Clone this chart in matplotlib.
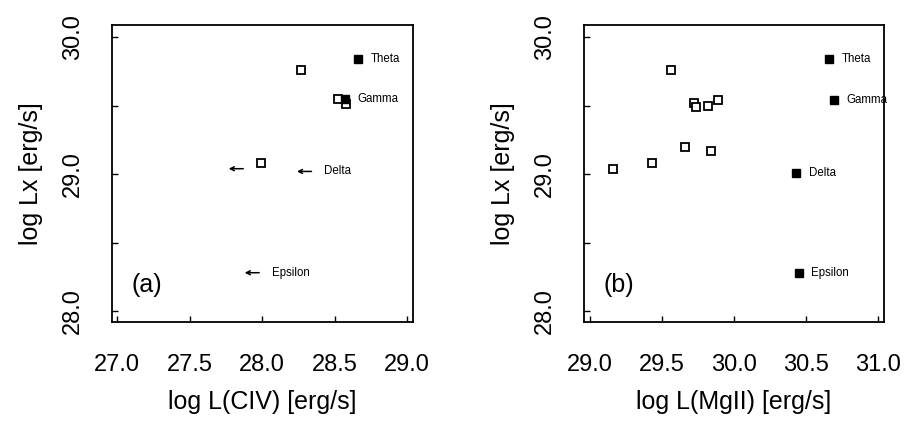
import matplotlib
matplotlib.use('Agg')
import matplotlib.pyplot as plt

plt.rcParams['font.family'] = ['Liberation Sans', 'DejaVu Sans']

# panel (a): log L(CIV) vs log Lx
civ_open_x = [28.27, 28.52, 28.58, 27.99]
civ_open_y = [29.76, 29.55, 29.51, 29.085]
civ_fill_x = [28.66, 28.57]
civ_fill_y = [29.845, 29.55]
civ_fill_names = ['Theta', 'Gamma']
civ_lim_x = [27.87, 28.34, 27.98]
civ_lim_y = [29.04, 29.02, 28.28]
civ_lim_names = ['', 'Delta', 'Epsilon']

# panel (b): log L(MgII) vs log Lx
mg_open_x = [29.56, 29.72, 29.74, 29.82, 29.89, 29.66, 29.84, 29.43, 29.16]
mg_open_y = [29.76, 29.52, 29.49, 29.50, 29.54, 29.20, 29.17, 29.08, 29.04]
mg_fill_x = [30.66, 30.69, 30.43, 30.45]
mg_fill_y = [29.84, 29.545, 29.01, 28.275]
mg_fill_names = ['Theta', 'Gamma', 'Delta', 'Epsilon']

xticks_a = [27.0, 27.5, 28.0, 28.5, 29.0]
xticks_b = [29.0, 29.5, 30.0, 30.5, 31.0]
yticks = [28.0, 28.5, 29.0, 29.5, 30.0]
ytick_labels = ['28.0', '', '29.0', '', '30.0']

fig = plt.figure(figsize=(9.05, 4.23), dpi=100)
ax1 = fig.add_axes([0.1238, 0.2388, 0.3326, 0.7021])
ax2 = fig.add_axes([0.6453, 0.2388, 0.3315, 0.7021])


def style(ax, xticks, xlim, xlabel, tag):
    ax.set_xlim(*xlim)
    ax.set_ylim(27.92, 30.09)
    ax.set_xticks(xticks)
    ax.set_xticklabels(['%.1f' % t for t in xticks], fontsize=17)
    ax.set_yticks(yticks)
    ax.set_yticklabels(ytick_labels, fontsize=17, rotation=90, va='center')
    ax.tick_params(direction='in', length=4, width=1)
    ax.tick_params(axis='x', pad=23)
    ax.tick_params(axis='y', pad=20)
    for s in ax.spines.values():
        s.set_linewidth(1.3)
    ax.set_xlabel(xlabel, fontsize=18, labelpad=10)
    ax.set_ylabel('log Lx [erg/s]', fontsize=18, labelpad=14)
    ax.text(0.065, 0.125, tag, transform=ax.transAxes, fontsize=18,
            ha='left', va='center')


def name(ax, x, y, s):
    if s:
        ax.annotate(s, (x, y), xytext=(9, 0), textcoords='offset points',
                    fontsize=8.3, va='center', ha='left', annotation_clip=False)


# (a)
ax1.plot(civ_open_x, civ_open_y, 's', ms=5.5, mfc='white', mec='black', mew=1.3)
ax1.plot(civ_fill_x, civ_fill_y, 's', ms=5.5, color='black')
for x, y, s in zip(civ_fill_x, civ_fill_y, civ_fill_names):
    name(ax1, x, y, s)
for x, y, s in zip(civ_lim_x, civ_lim_y, civ_lim_names):
    ax1.annotate('', xy=(x - 0.1, y), xytext=(x, y),
                 arrowprops=dict(arrowstyle='->', lw=1.1, color='black',
                                 shrinkA=0, shrinkB=0, mutation_scale=7))
    name(ax1, x, y, s)
style(ax1, xticks_a, (26.966, 29.04), 'log L(CIV) [erg/s]', '(a)')

# (b)
ax2.plot(mg_open_x, mg_open_y, 's', ms=5.5, mfc='white', mec='black', mew=1.3)
ax2.plot(mg_fill_x, mg_fill_y, 's', ms=5.5, color='black')
for x, y, s in zip(mg_fill_x, mg_fill_y, mg_fill_names):
    name(ax2, x, y, s)
style(ax2, xticks_b, (28.96, 31.04), 'log L(MgII) [erg/s]', '(b)')

fig.savefig('out.png', dpi=100)
